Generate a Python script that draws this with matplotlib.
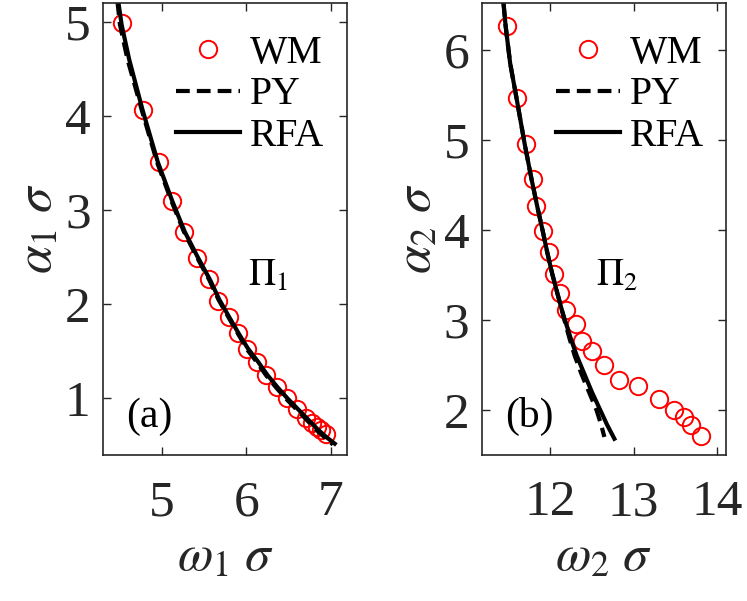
import matplotlib
matplotlib.use("Agg")
import matplotlib.pyplot as plt

plt.rcParams['font.family'] = ['Liberation Serif', 'DejaVu Serif']
plt.rcParams['mathtext.fontset'] = 'stix'

# panel (a): first resonance
wm1_x = [4.52, 4.77, 4.96, 5.12, 5.26, 5.42, 5.56, 5.66, 5.79, 5.90, 6.01, 6.13,
         6.24, 6.36, 6.48, 6.60, 6.71, 6.78, 6.84, 6.89, 6.95]
wm1_y = [4.99, 4.06, 3.51, 3.10, 2.77, 2.49, 2.27, 2.04, 1.86, 1.69, 1.53, 1.39,
         1.25, 1.12, 1.00, 0.89, 0.79, 0.74, 0.70, 0.66, 0.62]
rfa1_x = [4.48, 4.52, 4.61, 4.77, 4.95, 5.12, 5.27, 5.43, 5.57, 5.68, 5.80, 5.91,
          6.02, 6.14, 6.25, 6.37, 6.49, 6.61, 6.73, 6.85, 6.95, 7.05]
rfa1_y = [5.22, 4.97, 4.60, 4.06, 3.51, 3.10, 2.77, 2.49, 2.26, 2.05, 1.86, 1.69,
          1.53, 1.39, 1.25, 1.12, 1.00, 0.89, 0.78, 0.67, 0.59, 0.52]
py1_x = [4.47, 4.50, 4.59, 4.76, 4.94, 5.11, 5.26, 5.42, 5.56, 5.67, 5.79, 5.90,
         6.01, 6.13, 6.24, 6.36, 6.48, 6.60, 6.72, 6.84, 6.94, 7.03]
py1_y = [5.22, 4.97, 4.60, 4.06, 3.51, 3.10, 2.77, 2.49, 2.26, 2.05, 1.86, 1.69,
         1.52, 1.38, 1.24, 1.11, 0.99, 0.88, 0.77, 0.66, 0.58, 0.51]

# panel (b): second resonance
wm2_x = [11.48, 11.60, 11.71, 11.79, 11.83, 11.91, 11.99, 12.04, 12.12, 12.19,
         12.31, 12.38, 12.50, 12.65, 12.83, 13.05, 13.31, 13.49, 13.61, 13.69, 13.81]
wm2_y = [6.27, 5.47, 4.95, 4.57, 4.26, 3.99, 3.75, 3.51, 3.30, 3.11,
         2.96, 2.77, 2.65, 2.50, 2.33, 2.27, 2.12, 2.00, 1.92, 1.83, 1.71]
rfa2_x = [11.44, 11.465, 11.52, 11.595, 11.695, 11.775, 11.845, 11.91, 11.965, 12.025,
          12.085, 12.14, 12.19, 12.255, 12.32, 12.41, 12.50, 12.60, 12.68, 12.77]
rfa2_y = [6.52, 6.27, 5.85, 5.47, 4.95, 4.57, 4.26, 3.99, 3.75, 3.51,
          3.30, 3.11, 2.96, 2.77, 2.60, 2.40, 2.20, 2.00, 1.84, 1.68]
py2_x = [11.44, 11.465, 11.52, 11.595, 11.695, 11.775, 11.845, 11.91, 11.965, 12.025,
         12.085, 12.14, 12.17, 12.23, 12.295, 12.375, 12.465, 12.555, 12.61, 12.65]
py2_y = [6.52, 6.27, 5.85, 5.47, 4.95, 4.57, 4.26, 3.99, 3.75, 3.51,
         3.30, 3.11, 3.00, 2.80, 2.60, 2.40, 2.20, 2.00, 1.84, 1.70]

panels = [
    dict(wx=wm1_x, wy=wm1_y, rx=rfa1_x, ry=rfa1_y, px=py1_x, py=py1_y,
         xlim=(4.3, 7.2), ylim=(0.4, 5.2), xticks=[5, 6, 7], yticks=[1, 2, 3, 4, 5],
         xlabel=r'$\omega_1\ \sigma$', ylabel=r'$\alpha_1\ \sigma$',
         tag='(a)', pi=r'$\Pi_1$', left=0.138, pix=0.593, leg_x=0.30),
    dict(wx=wm2_x, wy=wm2_y, rx=rfa2_x, ry=rfa2_y, px=py2_x, py=py2_y,
         xlim=(11.18, 14.11), ylim=(1.5, 6.52), xticks=[12, 13, 14], yticks=[2, 3, 4, 5, 6],
         xlabel=r'$\omega_2\ \sigma$', ylabel=r'$\alpha_2\ \sigma$',
         tag='(b)', pi=r'$\Pi_2$', left=0.645, pix=0.469, leg_x=0.305),
]

fig = plt.figure(figsize=(7.47, 6.01), dpi=100)
grey = (0.15, 0.15, 0.15)

for p in panels:
    ax = fig.add_axes([p['left'], 0.243, 0.327, 0.752])
    ax.plot(p['wx'], p['wy'], 'o', mfc='none', mec='red', ms=12.5, mew=1.4, label='WM')
    ax.plot(p['px'], p['py'], '--', color='k', lw=3, dashes=(3.3, 1.7), label='PY')
    ax.plot(p['rx'], p['ry'], '-', color='k', lw=3, label='RFA')
    ax.set_xlim(p['xlim'])
    ax.set_ylim(p['ylim'])
    ax.set_xticks(p['xticks'])
    ax.set_yticks(p['yticks'])
    ax.tick_params(direction='in', length=6, width=1, colors=grey, labelsize=37,
                   top=True, right=True)
    ax.tick_params(axis='x', pad=18)
    ax.tick_params(axis='y', pad=9)
    for s in ax.spines.values():
        s.set_color(grey)
        s.set_linewidth(1.2)
    ax.set_xlabel(p['xlabel'], fontsize=37, color=grey, labelpad=6)
    ax.set_ylabel(p['ylabel'], fontsize=37, color=grey, labelpad=2)
    ax.text(0.095, 0.085, p['tag'], transform=ax.transAxes, fontsize=30,
            va='center', ha='left')
    ax.text(p['pix'], 0.395, p['pi'], transform=ax.transAxes, fontsize=27,
            va='center', ha='left')
    ax.legend(loc='upper left', bbox_to_anchor=(p['leg_x'], 0.93), frameon=False,
              fontsize=28.5, handlelength=1.6, handletextpad=0.25, labelspacing=0.12,
              borderpad=0, borderaxespad=0)

fig.savefig('out.png', dpi=100)
